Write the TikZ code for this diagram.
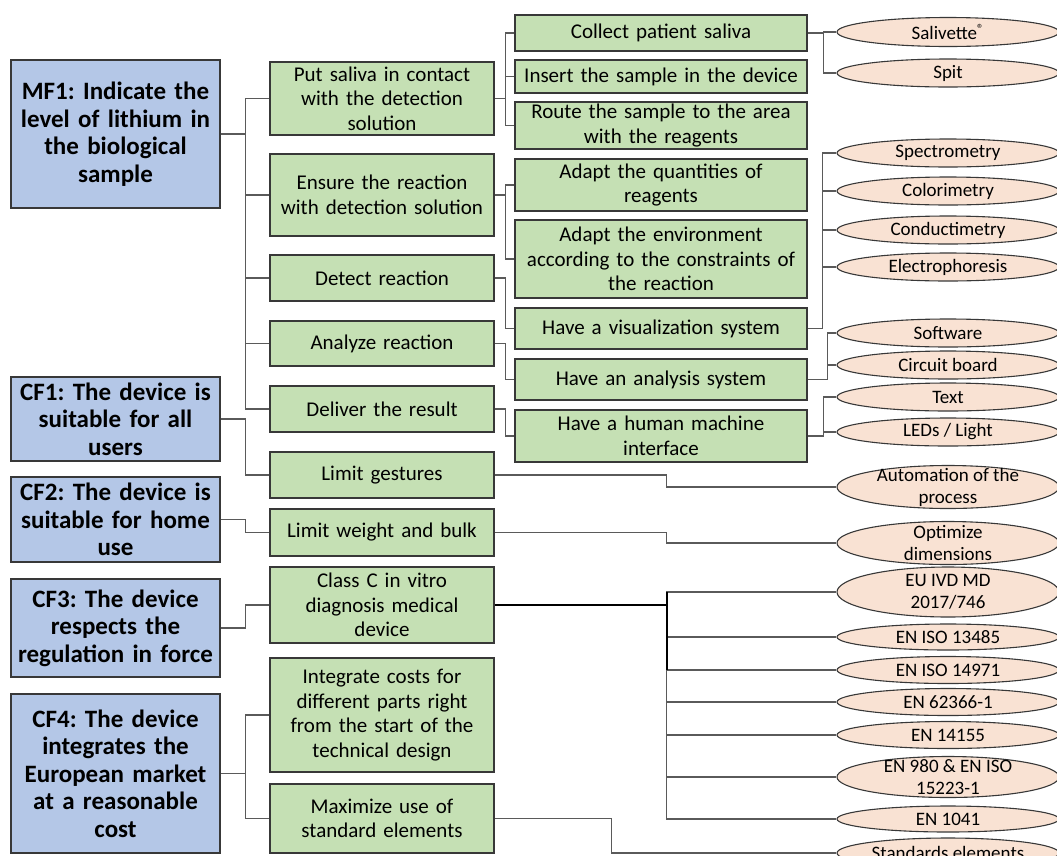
\documentclass[tikz,border=0pt]{standalone}
\usepackage{fontspec}
\setmainfont{Carlito}
\usepackage{tikz}
\usetikzlibrary{shapes.geometric}
\frenchspacing

\definecolor{mfblue}{HTML}{B4C7E7}
\definecolor{fgreen}{HTML}{C5E0B4}
\definecolor{speach}{HTML}{F9E2D3}
\definecolor{edge}{HTML}{383838}
\definecolor{wirecol}{HTML}{5A5A5A}

\tikzset{
  fbox/.style={draw=edge, line width=1.2pt, fill=mfblue, text width=201pt, inner xsep=4pt, inner ysep=0pt,
    align=center, font=\bfseries\fontsize{25}{27.5}\selectfont},
  sbox/.style={draw=edge, line width=1.2pt, fill=fgreen, inner xsep=4pt, inner ysep=0pt,
    align=center, font=\fontsize{21}{24.5}\selectfont},
  sub1/.style={sbox, text width=216pt},
  sub2/.style={sbox, text width=284pt},
  sol/.style={ellipse, draw=edge, line width=1.1pt, fill=speach, minimum width=222pt, inner sep=0pt},
  soltext/.style={align=center, inner sep=0pt, font=\fontsize{19}{22}\selectfont},
  wire/.style={draw=wirecol, line width=1.3pt},
  trunk/.style={draw=black, line width=1.8pt},
}

\begin{document}
\begin{tikzpicture}[x=1pt, y=-1pt]
    \path[use as bounding box, clip] (0,0) rectangle (1057,855);
    % functions
    \node[fbox, minimum height=148pt] (mf1) at (115.5,134) {MF1: Indicate the\\level of lithium in\\the biological\\sample};
    \node[fbox, minimum height=84pt]  (cf1) at (115.5,419) {CF1: The device is\\suitable for all\\users};
    \node[fbox, minimum height=85pt]  (cf2) at (115.5,519.5) {CF2: The device is\\suitable for home\\use};
    \node[fbox, minimum height=98pt]  (cf3) at (115.5,628) {CF3: The device\\respects the\\regulation in force};
    \node[fbox, minimum height=159pt] (cf4) at (115.5,773.5) {CF4: The device\\integrates the\\European market\\at a reasonable\\cost};
    % sub-functions
    \node[sub1, minimum height=73pt]  (put)      at (382,98.5)  {Put saliva in contact\\with the detection\\solution};
    \node[sub1, minimum height=82pt]  (ensure)   at (382,195)   {Ensure the reaction\\with detection solution};
    \node[sub1, minimum height=46pt]  (detect)   at (382,278)   {Detect reaction};
    \node[sub1, minimum height=45pt]  (analyze)  at (382,343.5) {Analyze reaction};
    \node[sub1, minimum height=46pt]  (deliver)  at (382,409)   {Deliver the result};
    \node[sub1, minimum height=46pt]  (gestures) at (382,475)   {Limit gestures};
    \node[sub1, minimum height=47pt]  (weight)   at (382,532.5) {Limit weight and bulk};
    \node[sub1, minimum height=76pt]  (classc)   at (382,605)   {Class C in vitro\\diagnosis medical\\device};
    \node[sub1, minimum height=114pt] (costs)    at (382,715)   {Integrate costs for\\different parts right\\from the start of the\\technical design};
    \node[sub1, minimum height=69pt]  (standard) at (382,818.5) {Maximize use of\\standard elements};
    % technical functions
    \node[sub2, minimum height=36pt] (collect) at (661,33)    {Collect patient saliva};
    \node[sub2, minimum height=33pt] (insert)  at (661,76.5)  {Insert the sample in the device};
    \node[sub2, minimum height=47pt] (route)   at (661,125.5) {Route the sample to the area\\with the reagents};
    \node[sub2, minimum height=52pt] (quant)   at (661,185)   {Adapt the quantities of\\reagents};
    \node[sub2, minimum height=78pt] (env)     at (661,259)   {Adapt the environment\\according to the constraints of\\the reaction};
    \node[sub2, minimum height=41pt] (visu)    at (661,328.5) {Have a visualization system};
    \node[sub2, minimum height=41pt] (anal)    at (661,379.5) {Have an analysis system};
    \node[sub2, minimum height=52pt] (hmi)     at (661,436)   {Have a human machine\\interface};
    % solutions
    \node[sol, minimum height=29pt, label={[soltext]center:Salivette\textsuperscript{®}}] (salivette) at (948,32) {};
    \node[sol, minimum height=28pt, label={[soltext]center:Spit}] (spit) at (948,73) {};
    \node[sol, minimum height=28pt, label={[soltext]center:Spectrometry}] (spectro) at (948,153) {};
    \node[sol, minimum height=28pt, label={[soltext]center:Colorimetry}] (colori) at (948,191) {};
    \node[sol, minimum height=28pt, label={[soltext]center:Conductimetry}] (conduct) at (948,230) {};
    \node[sol, minimum height=28pt, label={[soltext]center:Electrophoresis}] (electro) at (948,267) {};
    \node[sol, minimum height=28pt, label={[soltext]center:Software}] (software) at (948,333) {};
    \node[sol, minimum height=28pt, label={[soltext]center:Circuit board}] (circuit) at (948,365) {};
    \node[sol, minimum height=28pt, label={[soltext]center:Text}] (text) at (948,397) {};
    \node[sol, minimum height=28pt, label={[soltext]center:LEDs / Light}] (leds) at (948,432) {};
    \node[sol, minimum height=43pt, label={[soltext]center:Automation of the\\process}] (autom) at (948,487) {};
    \node[sol, minimum height=43pt, label={[soltext]center:Optimize\\dimensions}] (optim) at (948,543) {};
    \node[sol, minimum height=50pt, label={[soltext]center:EU IVD MD\\2017/746}] (euivd) at (948,592) {};
    \node[sol, minimum height=26pt, label={[soltext]center:EN ISO 13485}] (iso13485) at (948,637) {};
    \node[sol, minimum height=27pt, label={[soltext]center:EN ISO 14971}] (iso14971) at (948,670) {};
    \node[sol, minimum height=27pt, label={[soltext]center:EN 62366-1}] (en62366) at (948,702) {};
    \node[sol, minimum height=27pt, label={[soltext]center:EN 14155}] (en14155) at (948,735) {};
    \node[sol, minimum height=41pt, label={[soltext]center:EN 980 \& EN ISO\\15223-1}] (en980) at (948,777) {};
    \node[sol, minimum height=26pt, label={[soltext]center:EN 1041}] (en1041) at (948,819) {};
    \node[sol, minimum height=30pt, label={[soltext]center:Standards elements}] (standards) at (948,853) {};
    % links
    \draw[wire] (mf1.east) -- ++(25,0) |- (put.west)  (mf1.east) -- ++(25,0) |- (ensure.west)
                (mf1.east) -- ++(25,0) |- (detect.west) (mf1.east) -- ++(25,0) |- (analyze.west)
                (mf1.east) -- ++(25,0) |- (deliver.west);
    \draw[wire] (cf1.east) -- ++(25,0) |- (gestures.west);
    \draw[wire] (cf2.east) -- ++(25,0) |- (weight.west);
    \draw[wire] (cf3.east) -- ++(25,0) |- (classc.west);
    \draw[wire] (cf4.east) -- ++(25,0) |- (costs.west)  (cf4.east) -- ++(25,0) |- (standard.west);
    \draw[wire] (put.east) -- ++(11,0) |- (collect.west)  (put.east) -- ++(11,0) |- (insert.west)
                (put.east) -- ++(11,0) |- (route.west);
    \draw[wire] (ensure.east) -- ++(11,0) |- (quant.west)  (ensure.east) -- ++(11,0) |- (env.west);
    \draw[wire] (detect.east) -- ++(11,0) |- (visu.west);
    \draw[wire] (analyze.east) -- ++(11,0) |- (anal.west);
    \draw[wire] (deliver.east) -- ++(11,0) |- (hmi.west);
    \draw[wire] (collect.east) -- ++(16,0) |- (salivette.west)  (collect.east) -- ++(16,0) |- (spit.west);
    \draw[wire] (visu.east) -- ++(15,0) |- (spectro.west)  (visu.east) -- ++(15,0) |- (colori.west)
                (visu.east) -- ++(15,0) |- (conduct.west)  (visu.east) -- ++(15,0) |- (electro.west);
    \draw[wire] (anal.east) -- ++(20,0) |- (software.west)  (anal.east) -- ++(20,0) |- (circuit.west);
    \draw[wire] (hmi.east) -- ++(16,0) |- (text.west)  (hmi.east) -- ++(16,0) |- (leds.west);
    \draw[wire] (gestures.east) -- ++(172,0) |- (autom.west);
    \draw[wire] (weight.east) -- ++(172,0) |- (optim.west);
    \draw[wire] (classc.east) -- ++(172,0) |- (euivd.west)  (classc.east) -- ++(172,0) |- (iso13485.west)
                (classc.east) -- ++(172,0) |- (iso14971.west)  (classc.east) -- ++(172,0) |- (en62366.west)
                (classc.east) -- ++(172,0) |- (en14155.west)  (classc.east) -- ++(172,0) |- (en980.west)
                (classc.east) -- ++(172,0) |- (en1041.west);
    \draw[trunk] (classc.east) -- ++(172,0) coordinate (cbus) (cbus |- euivd.west) -- (cbus |- iso14971.west);
    \draw[wire] (standard.east) -- ++(117,0) |- (standards.west);
\end{tikzpicture}
\end{document}
